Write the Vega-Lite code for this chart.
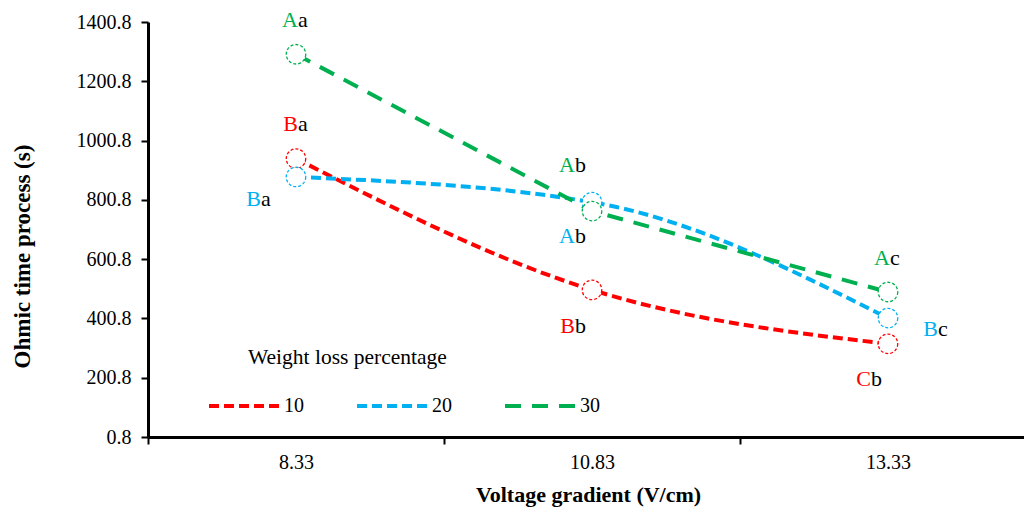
{
  "$schema": "https://vega.github.io/schema/vega-lite/v6.json",
  "width": 876,
  "height": 415,
  "autosize": {"type": "none"},
  "padding": {"left": 148, "top": 22, "right": 0, "bottom": 73},
  "background": "white",
  "config": {
    "font": "Liberation Serif",
    "axis": {"labelFont": "Liberation Serif", "titleFont": "Liberation Serif"},
    "legend": {"labelFont": "Liberation Serif", "titleFont": "Liberation Serif"},
    "text": {"font": "Liberation Serif"},
    "view": {"stroke": null}
  },
  "datasets": {
    "pts": [
      {"v": "8.33", "s": "10", "t": 940},
      {"v": "10.83", "s": "10", "t": 497},
      {"v": "13.33", "s": "10", "t": 315},
      {"v": "8.33", "s": "20", "t": 878},
      {"v": "10.83", "s": "20", "t": 793},
      {"v": "13.33", "s": "20", "t": 402},
      {"v": "8.33", "s": "30", "t": 1292},
      {"v": "10.83", "s": "30", "t": 763},
      {"v": "13.33", "s": "30", "t": 490}
    ],
    "labs": [
      {"v": "8.33", "s": "30", "cap": "A", "low": "a", "ly": 1384, "side": "c"},
      {"v": "8.33", "s": "10", "cap": "B", "low": "a", "ly": 1033, "side": "c"},
      {"v": "8.33", "s": "20", "cap": "B", "low": "a", "ly": 780, "side": "l"},
      {"v": "10.83", "s": "30", "cap": "A", "low": "b", "ly": 894, "side": "lc"},
      {"v": "10.83", "s": "20", "cap": "A", "low": "b", "ly": 655, "side": "lc"},
      {"v": "10.83", "s": "10", "cap": "B", "low": "b", "ly": 351, "side": "lc"},
      {"v": "13.33", "s": "30", "cap": "A", "low": "c", "ly": 581, "side": "c"},
      {"v": "13.33", "s": "20", "cap": "B", "low": "c", "ly": 341, "side": "r"},
      {"v": "13.33", "s": "10", "cap": "C", "low": "b", "ly": 173, "side": "lc"}
    ]
  },
  "encoding": {
    "x": {
      "field": "v", "type": "nominal", "sort": ["8.33", "10.83", "13.33"],
      "scale": {"type": "band", "range": [0, 888], "paddingInner": 0, "paddingOuter": 0},
      "axis": {
        "title": "Voltage gradient (V/cm)", "titleFontSize": 22, "titleFontWeight": "bold", "titleColor": "black",
        "titleX": 440, "titleY": 57, "titleBaseline": "middle", "titleAlign": "center",
        "labelAngle": 0, "labelFontSize": 20, "labelColor": "black", "labelPadding": 8,
        "tickBand": "extent", "tickSize": 7, "tickWidth": 2, "tickColor": "black",
        "domainColor": "black", "domainWidth": 3, "grid": false
      }
    }
  },
  "layer": [
    {
      "data": {"name": "pts"},
      "transform": [{"filter": "datum.s != '30'"}],
      "mark": {"type": "line", "interpolate": "monotone", "strokeWidth": 4},
      "encoding": {
        "y": {
          "field": "t", "type": "quantitative",
          "scale": {"domain": [0.8, 1400.8], "nice": false, "zero": false},
          "axis": {
            "title": "Ohmic time process (s)", "titleFontSize": 23, "titleFontWeight": "bold", "titleColor": "black",
            "titleX": -126, "titleY": 234, "titleAlign": "center", "titleBaseline": "middle", "titleAngle": -90,
            "values": [0.8, 200.8, 400.8, 600.8, 800.8, 1000.8, 1200.8, 1400.8], "format": ".1f",
            "labelFontSize": 20, "labelColor": "black", "labelPadding": 10,
            "tickSize": 7, "tickWidth": 2, "tickColor": "black",
            "domainColor": "black", "domainWidth": 3, "grid": false
          }
        },
        "color": {
          "field": "s", "type": "nominal",
          "scale": {"domain": ["10", "20", "30"], "range": ["#FF0000", "#00B0F0", "#00B050"]},
          "legend": {
            "title": null,
            "orient": "none", "legendX": 59, "legendY": 347, "direction": "horizontal",
            "symbolType": "stroke", "symbolSize": 4900, "symbolStrokeWidth": 4,
            "labelFontSize": 20, "labelColor": "black", "labelOffset": 3, "columnPadding": 45
          }
        },
        "strokeDash": {
          "field": "s", "type": "nominal",
          "scale": {"domain": ["10", "20", "30"], "range": [[10, 5], [10, 5], [16, 11]]},
          "legend": {
            "title": null,
            "orient": "none", "legendX": 59, "legendY": 347, "direction": "horizontal",
            "symbolType": "stroke", "symbolSize": 4900, "symbolStrokeWidth": 4,
            "labelFontSize": 20, "labelColor": "black", "labelOffset": 3, "columnPadding": 45
          }
        }
      }
    },
    {
      "data": {"name": "pts"},
      "transform": [{"filter": "datum.s == '30'"}],
      "mark": {"type": "line", "interpolate": "linear", "strokeWidth": 4},
      "encoding": {
        "y": {"field": "t", "type": "quantitative"},
        "color": {"field": "s", "type": "nominal"},
        "strokeDash": {"field": "s", "type": "nominal"}
      }
    },
    {
      "data": {"name": "pts"},
      "mark": {"type": "point", "shape": "circle", "size": 380, "fill": "white", "fillOpacity": 1, "strokeWidth": 1.3, "strokeDash": [3, 2], "opacity": 1},
      "encoding": {
        "y": {"field": "t", "type": "quantitative"},
        "stroke": {
          "field": "s", "type": "nominal",
          "scale": {"domain": ["10", "20", "30"], "range": ["#FF0000", "#00B0F0", "#00B050"]},
          "legend": null
        }
      }
    },
    {
      "data": {"values": [{}]},
      "mark": {"type": "text", "align": "left", "baseline": "alphabetic", "fontSize": 21.5, "dx": -48, "color": "black"},
      "encoding": {
        "x": {"datum": "8.33"},
        "y": {"datum": 247},
        "text": {"value": "Weight loss percentage"}
      }
    },
    {
      "data": {"name": "labs"},
      "transform": [{"filter": "datum.side == 'c'"}],
      "mark": {"type": "text", "align": "left", "baseline": "alphabetic", "fontSize": 22, "dx": 2, "color": "black"},
      "encoding": {"y": {"field": "ly", "type": "quantitative"}, "text": {"field": "low"}}
    },
    {
      "data": {"name": "labs"},
      "transform": [{"filter": "datum.side == 'lc'"}],
      "mark": {"type": "text", "align": "left", "baseline": "alphabetic", "fontSize": 22, "dx": -17, "color": "black"},
      "encoding": {"y": {"field": "ly", "type": "quantitative"}, "text": {"field": "low"}}
    },
    {
      "data": {"name": "labs"},
      "transform": [{"filter": "datum.side == 'l'"}],
      "mark": {"type": "text", "align": "left", "baseline": "alphabetic", "fontSize": 22, "dx": -35, "color": "black"},
      "encoding": {"y": {"field": "ly", "type": "quantitative"}, "text": {"field": "low"}}
    },
    {
      "data": {"name": "labs"},
      "transform": [{"filter": "datum.side == 'r'"}],
      "mark": {"type": "text", "align": "left", "baseline": "alphabetic", "fontSize": 22, "dx": 50, "color": "black"},
      "encoding": {"y": {"field": "ly", "type": "quantitative"}, "text": {"field": "low"}}
    },
    {
      "data": {"name": "labs"},
      "transform": [{"filter": "datum.side == 'c'"}],
      "mark": {"type": "text", "align": "right", "baseline": "alphabetic", "fontSize": 22, "dx": 2},
      "encoding": {
        "y": {"field": "ly", "type": "quantitative"}, "text": {"field": "cap"},
        "fill": {"field": "s", "type": "nominal", "scale": {"domain": ["10", "20", "30"], "range": ["#FF0000", "#00B0F0", "#00B050"]}, "legend": null}
      }
    },
    {
      "data": {"name": "labs"},
      "transform": [{"filter": "datum.side == 'lc'"}],
      "mark": {"type": "text", "align": "right", "baseline": "alphabetic", "fontSize": 22, "dx": -17},
      "encoding": {
        "y": {"field": "ly", "type": "quantitative"}, "text": {"field": "cap"},
        "fill": {"field": "s", "type": "nominal", "legend": null}
      }
    },
    {
      "data": {"name": "labs"},
      "transform": [{"filter": "datum.side == 'l'"}],
      "mark": {"type": "text", "align": "right", "baseline": "alphabetic", "fontSize": 22, "dx": -35},
      "encoding": {
        "y": {"field": "ly", "type": "quantitative"}, "text": {"field": "cap"},
        "fill": {"field": "s", "type": "nominal", "legend": null}
      }
    },
    {
      "data": {"name": "labs"},
      "transform": [{"filter": "datum.side == 'r'"}],
      "mark": {"type": "text", "align": "right", "baseline": "alphabetic", "fontSize": 22, "dx": 50},
      "encoding": {
        "y": {"field": "ly", "type": "quantitative"}, "text": {"field": "cap"},
        "fill": {"field": "s", "type": "nominal", "legend": null}
      }
    }
  ]
}
